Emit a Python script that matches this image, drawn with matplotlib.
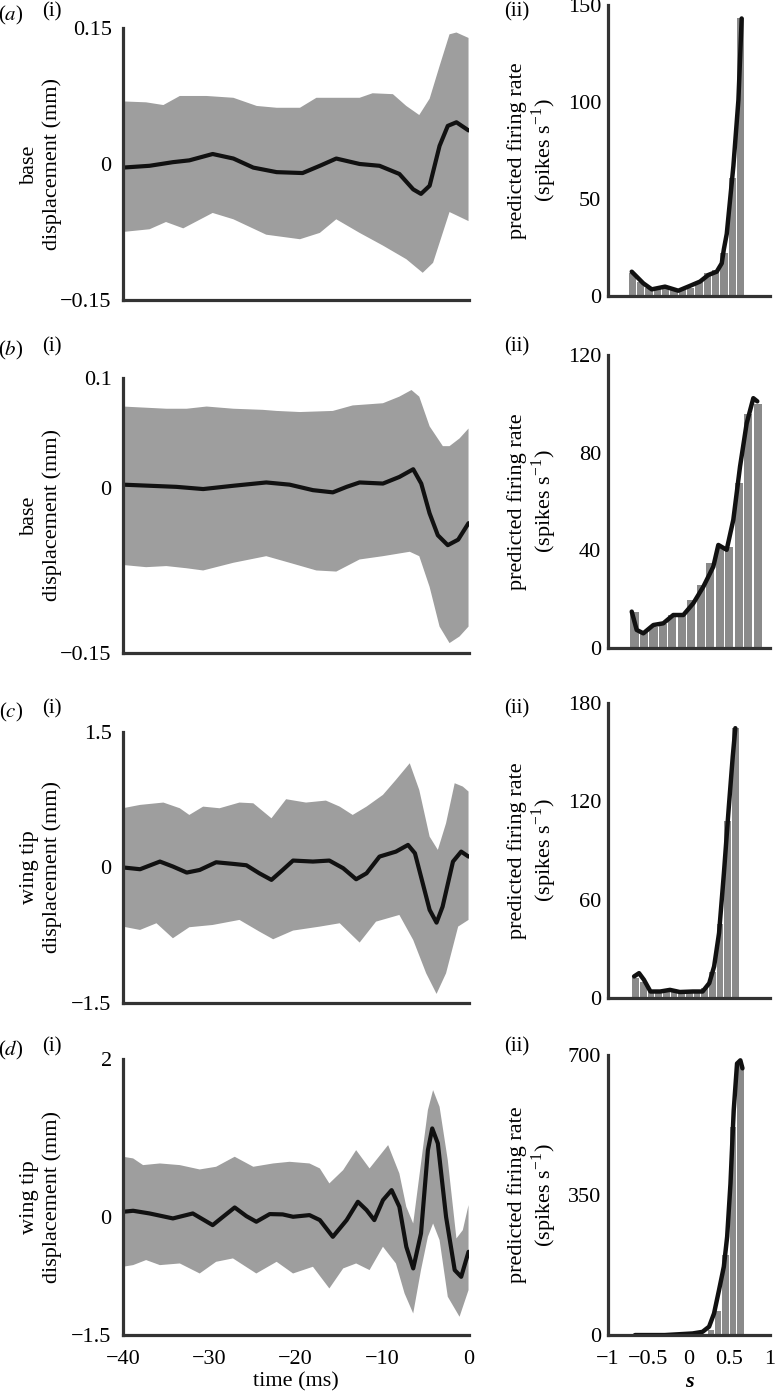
import numpy as np
import matplotlib
matplotlib.use('Agg')
import matplotlib.pyplot as plt

plt.rcParams['font.family'] = ['Liberation Serif', 'DejaVu Serif']
plt.rcParams['mathtext.fontset'] = 'stix'

# ---- (a) base displacement, first neuron ----
a_t_mean = [-40, -36.9, -34.2, -32.3, -29.6, -27.2, -24.9, -22.2, -19.2, -17.2, -15.3, -12.6, -10.3, -8.0, -6.4, -5.5, -4.5, -3.35, -2.4, -1.4, 0]
a_mean = [-0.004, -0.002, 0.002, 0.004, 0.011, 0.006, -0.004, -0.009, -0.010, -0.002, 0.006, 0.000, -0.002, -0.011, -0.028, -0.033, -0.024, 0.020, 0.042, 0.046, 0.037]
a_t_up = [-40, -37.3, -35.3, -33.4, -30.3, -27.2, -24.5, -22.2, -19.5, -17.6, -15.7, -12.6, -11.1, -8.75, -7.2, -5.7, -4.5, -3.35, -2.2, -1.4, 0]
a_up = [0.069, 0.068, 0.065, 0.075, 0.075, 0.073, 0.064, 0.062, 0.062, 0.073, 0.073, 0.073, 0.078, 0.077, 0.064, 0.054, 0.072, 0.108, 0.143, 0.145, 0.139]
a_t_lo = [-40, -36.9, -35.0, -33.0, -29.6, -27.2, -23.4, -19.5, -17.2, -15.3, -12.6, -9.9, -7.2, -5.3, -4.1, -2.2, 0]
a_lo = [-0.075, -0.072, -0.064, -0.071, -0.054, -0.061, -0.078, -0.083, -0.076, -0.061, -0.076, -0.090, -0.105, -0.120, -0.109, -0.053, -0.063]
a_s = [-0.70, -0.597, -0.494, -0.391, -0.288, -0.185, -0.082, 0.021, 0.124, 0.227, 0.33, 0.433, 0.536, 0.639]
a_rate = [12, 7, 4, 3.5, 4, 3, 3, 4, 7, 12, 13.5, 22, 61, 143]
a_s_fit = [-0.707, -0.564, -0.46, -0.296, -0.132, 0.012, 0.136, 0.238, 0.342, 0.404, 0.43, 0.466, 0.548, 0.61, 0.65]
a_fit = [12.5, 6.5, 3.4, 4.8, 2.7, 5.2, 7.4, 10.8, 12.5, 16.8, 24, 32, 67, 101, 143]

# ---- (b) base displacement, second neuron ----
b_t_mean = [-40, -36.9, -33.8, -30.7, -27.2, -23.4, -20.7, -18.0, -15.7, -14.1, -12.6, -9.9, -8.0, -6.4, -5.47, -4.51, -3.55, -2.4, -1.2, 0]
b_mean = [0.003, 0.002, 0.001, -0.001, 0.002, 0.005, 0.003, -0.002, -0.004, 0.001, 0.005, 0.004, 0.010, 0.017, 0.004, -0.023, -0.043, -0.052, -0.047, -0.032]
b_t_up = [-40, -34.95, -32.6, -30.3, -27.2, -23.8, -22.2, -19.5, -15.7, -13.4, -9.9, -8.0, -6.6, -5.7, -4.5, -2.97, -2.2, -1.04, 0]
b_up = [0.074, 0.072, 0.072, 0.074, 0.072, 0.071, 0.070, 0.069, 0.070, 0.075, 0.077, 0.083, 0.089, 0.083, 0.056, 0.038, 0.038, 0.045, 0.054]
b_t_lo = [-40, -37.3, -34.95, -32.6, -30.7, -27.2, -23.4, -20.7, -17.6, -15.3, -12.6, -9.9, -6.8, -5.7, -4.5, -3.35, -2.2, -1.04, 0]
b_lo = [-0.070, -0.072, -0.071, -0.073, -0.075, -0.068, -0.062, -0.068, -0.075, -0.076, -0.065, -0.062, -0.058, -0.062, -0.090, -0.126, -0.141, -0.135, -0.126]
b_s = [-0.673, -0.556, -0.439, -0.322, -0.205, -0.088, 0.029, 0.146, 0.263, 0.38, 0.497, 0.614, 0.731, 0.848]
b_rate = [14.9, 7, 8.7, 10, 13.5, 14, 19.7, 25.8, 35, 40.8, 41.5, 67.5, 96, 100]
b_s_fit = [-0.707, -0.646, -0.564, -0.44, -0.317, -0.194, -0.07, 0.053, 0.177, 0.3, 0.362, 0.465, 0.547, 0.63, 0.712, 0.794, 0.843]
b_fit = [14.9, 7.4, 6, 9.4, 10.1, 13.5, 13.5, 18.3, 25.1, 33.3, 42.2, 40.2, 52.5, 74.3, 92, 102.3, 101]

# ---- (c) wing tip displacement, first neuron ----
c_t_mean = [-40, -38.0, -35.7, -34.2, -32.6, -31.1, -29.2, -27.2, -25.7, -24.2, -22.8, -21.5, -20.3, -18.0, -16.1, -14.5, -13.0, -11.8, -10.3, -8.4, -7.0, -6.2, -5.3, -4.5, -3.7, -3.0, -1.8, -0.85, 0]
c_mean = [0.0, -0.02, 0.065, 0.01, -0.057, -0.028, 0.057, 0.039, 0.024, -0.065, -0.138, -0.028, 0.076, 0.065, 0.076, -0.009, -0.131, -0.065, 0.12, 0.175, 0.249, 0.157, -0.175, -0.47, -0.611, -0.434, 0.065, 0.175, 0.12]
c_t_up = [-40, -38.0, -35.3, -33.4, -32.3, -30.7, -28.8, -26.5, -24.9, -22.8, -21.1, -18.8, -16.5, -14.9, -13.4, -11.8, -9.9, -8.4, -6.8, -5.7, -4.5, -3.55, -2.6, -1.6, -0.66, 0]
c_up = [0.655, 0.692, 0.718, 0.655, 0.581, 0.673, 0.655, 0.718, 0.710, 0.544, 0.755, 0.718, 0.740, 0.673, 0.581, 0.673, 0.803, 0.969, 1.153, 0.858, 0.341, 0.194, 0.489, 0.932, 0.895, 0.84]
c_t_lo = [-40, -38.0, -36.1, -34.2, -32.3, -29.6, -26.5, -24.2, -22.6, -20.3, -17.2, -14.9, -12.6, -10.7, -8.0, -6.4, -4.9, -3.7, -2.6, -1.2, 0]
c_lo = [-0.655, -0.692, -0.618, -0.784, -0.662, -0.637, -0.581, -0.710, -0.795, -0.699, -0.655, -0.618, -0.832, -0.600, -0.526, -0.803, -1.172, -1.400, -1.172, -0.655, -0.581]
c_s = [-0.658, -0.563, -0.469, -0.374, -0.280, -0.185, -0.090, 0.004, 0.099, 0.193, 0.288, 0.382, 0.477, 0.572]
c_rate = [12.5, 10, 4, 4, 4.5, 4.5, 4, 4, 4, 6, 16, 45, 108, 165]
c_s_fit = [-0.678, -0.617, -0.557, -0.476, -0.356, -0.235, -0.114, 0.047, 0.168, 0.25, 0.31, 0.371, 0.431, 0.492, 0.54, 0.572]
c_fit = [13.2, 15.2, 11.2, 4, 4, 5, 3.7, 4, 4, 9.1, 19.3, 39.7, 76.3, 117, 147.4, 164.7]

# ---- (d) wing tip displacement, second neuron ----
d_t_mean = [-40, -38.8, -36.9, -34.2, -31.9, -29.6, -28.4, -27.05, -25.7, -24.55, -23.0, -21.5, -20.3, -18.4, -17.2, -15.7, -14.1, -12.8, -11.8, -10.9, -9.9, -8.9, -8.0, -7.2, -6.4, -5.5, -4.7, -4.2, -3.55, -2.6, -1.6, -0.85, 0]
d_mean = [0.063, 0.076, 0.042, -0.021, 0.042, -0.106, 0.0, 0.118, 0.008, -0.063, 0.034, 0.030, 0.0, 0.021, -0.042, -0.254, -0.042, 0.190, 0.085, -0.042, 0.211, 0.338, 0.127, -0.380, -0.655, -0.211, 0.845, 1.120, 0.930, 0.0, -0.676, -0.761, -0.444]
d_t_up = [-40, -38.8, -37.65, -35.7, -33.4, -31.1, -29.2, -27.05, -24.9, -22.6, -20.7, -18.4, -17.2, -16.1, -14.5, -13.0, -11.45, -9.3, -8.0, -7.2, -6.4, -5.5, -4.7, -4.1, -3.35, -2.4, -1.4, -0.66, 0]
d_up = [0.761, 0.740, 0.655, 0.676, 0.655, 0.600, 0.634, 0.761, 0.634, 0.676, 0.697, 0.676, 0.613, 0.423, 0.592, 0.845, 0.613, 0.909, 0.549, 0.127, -0.085, 0.676, 1.353, 1.606, 1.395, 0.718, -0.275, -0.169, 0.148]
d_t_lo = [-40, -38.8, -37.3, -35.7, -33.4, -31.1, -29.2, -27.25, -24.55, -22.2, -20.3, -18.0, -16.1, -14.5, -13.0, -11.45, -9.9, -8.4, -7.4, -6.4, -5.5, -4.7, -4.1, -3.35, -2.4, -1.04, 0]
d_lo = [-0.634, -0.613, -0.549, -0.613, -0.592, -0.719, -0.571, -0.528, -0.719, -0.571, -0.719, -0.634, -0.909, -0.655, -0.592, -0.676, -0.380, -0.592, -0.972, -1.226, -0.676, -0.254, -0.085, -0.296, -1.014, -1.268, -0.930]
d_s = [-0.651, -0.559, -0.467, -0.375, -0.283, -0.191, -0.099, -0.007, 0.085, 0.177, 0.269, 0.361, 0.453, 0.545, 0.637]
d_rate = [0, 0, 0, 0, 0, 0, 0, 0, 1, 3, 12, 60, 200, 520, 675]
d_s_fit = [-0.667, -0.3, 0.044, 0.166, 0.248, 0.309, 0.37, 0.43, 0.471, 0.512, 0.552, 0.593, 0.634, 0.66]
d_fit = [0, 0, 4, 8, 21, 54, 112, 171, 246, 379, 562, 679, 687, 667]

letters = ['a', 'b', 'c', 'd']
left_ylabels = ['base\ndisplacement (mm)', 'base\ndisplacement (mm)',
                'wing tip\ndisplacement (mm)', 'wing tip\ndisplacement (mm)']
left_yticks = [[-0.15, 0, 0.15], [-0.15, 0, 0.1], [-1.5, 0, 1.5], [-1.5, 0, 2]]
left_yticklabels = [['\u22120.15', '0', '0.15'], ['\u22120.15', '0', '0.1'],
                    ['\u22121.5', '0', '1.5'], ['\u22121.5', '0', '2']]
right_yticks = [[0, 50, 100, 150], [0, 40, 80, 120], [0, 60, 120, 180], [0, 350, 700]]

# axes rectangles in figure fractions
left_rects = [[0.158, 0.7845, 0.445, 0.1954], [0.158, 0.5309, 0.445, 0.1976],
              [0.158, 0.2795, 0.445, 0.1947], [0.158, 0.0409, 0.445, 0.1983]]
right_rects = [[0.7825, 0.7874, 0.2085, 0.2091], [0.7825, 0.5345, 0.2085, 0.2105],
               [0.7825, 0.2830, 0.2085, 0.2119], [0.7825, 0.0409, 0.2085, 0.2011]]
label_y = [15, 350, 712, 1050]

band = [(a_t_mean, a_mean, a_t_up, a_up, a_t_lo, a_lo),
        (b_t_mean, b_mean, b_t_up, b_up, b_t_lo, b_lo),
        (c_t_mean, c_mean, c_t_up, c_up, c_t_lo, c_lo),
        (d_t_mean, d_mean, d_t_up, d_up, d_t_lo, d_lo)]
hist = [(a_s, a_rate, a_s_fit, a_fit), (b_s, b_rate, b_s_fit, b_fit),
        (c_s, c_rate, c_s_fit, c_fit), (d_s, d_rate, d_s_fit, d_fit)]

spine_col = '#333333'
fs = 16

def estilo(ax):
    for lado in ['top', 'right']:
        ax.spines[lado].set_visible(False)
    for lado in ['left', 'bottom']:
        ax.spines[lado].set_linewidth(2.3)
        ax.spines[lado].set_color(spine_col)
    ax.tick_params(length=0, labelsize=fs)

fig = plt.figure(figsize=(7.77, 13.92), dpi=100)
W, H = 777, 1392

for i in range(4):
    tm, m, tu, u, tl, l = band[i]
    ax = fig.add_axes(left_rects[i])
    estilo(ax)
    poly_x = np.concatenate([tu, tl[::-1]])
    poly_y = np.concatenate([u, l[::-1]])
    ax.fill(poly_x, poly_y, color='#9e9e9e', lw=0)
    ax.plot(tm, m, color='#111111', lw=3.0, solid_joinstyle='round', solid_capstyle='round')
    ax.set_xlim(-40, 0)
    yt = left_yticks[i]
    ax.set_ylim(yt[0], yt[-1])
    ax.set_yticks(yt)
    ax.set_yticklabels(left_yticklabels[i])
    ax.tick_params(axis='y', pad=8)
    ax.set_ylabel(left_ylabels[i], fontsize=fs, linespacing=1.25)
    ax.yaxis.set_label_coords(-0.175, 0.5)
    if i == 3:
        ax.set_xticks([-40, -30, -20, -10, 0])
        ax.set_xticklabels(['\u221240', '\u221230', '\u221220', '\u221210', '0'])
        ax.tick_params(axis='x', pad=11)
        ax.set_xlabel('time (ms)', fontsize=fs, labelpad=2)
    else:
        ax.set_xticks([])

    s, r, sf, f = hist[i]
    ax2 = fig.add_axes(right_rects[i])
    estilo(ax2)
    largura = 0.86 * np.mean(np.diff(s))
    ax2.bar(s, r, width=largura, color='#8a8a8a', lw=0)
    ax2.plot(sf, f, color='#111111', lw=3.2, solid_joinstyle='round', solid_capstyle='round')
    ax2.set_xlim(-1, 1)
    yt2 = right_yticks[i]
    ax2.set_ylim(0, yt2[-1])
    ax2.set_yticks(yt2)
    ax2.tick_params(axis='y', pad=5)
    ax2.set_ylabel('predicted firing rate\n(spikes s$^{\\mathregular{\u22121}}$)', fontsize=fs, linespacing=1.15)
    ax2.yaxis.set_label_coords(-0.30, 0.5)
    if i == 3:
        ax2.set_xticks([-1, -0.5, 0, 0.5, 1])
        ax2.set_xticklabels(['\u22121', '\u22120.5', '0', '0.5', '1'])
        ax2.tick_params(axis='x', pad=11)
        ax2.set_xlabel('s', fontsize=fs, fontstyle='italic', fontweight='bold', labelpad=2)
    else:
        ax2.set_xticks([])

    yy = 1 - label_y[i] / H
    fig.text(11 / W, yy, '(${\\it %s}$)' % letters[i], fontsize=15, ha='center', va='center')
    fig.text(52 / W, yy + 3 / H, '(i)', fontsize=15, ha='center', va='center')
    fig.text(517 / W, yy + 3 / H, '(ii)', fontsize=15, ha='center', va='center')

fig.savefig('out.png', dpi=100)
